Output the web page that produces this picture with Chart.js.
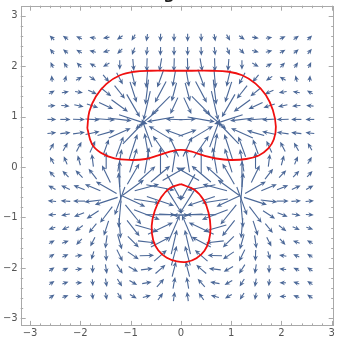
<!DOCTYPE html>
<html lang="en">
  <head>
    <meta charset="utf-8" />
    <title>Vector field with contour</title>
    <style>
      * { margin: 0; padding: 0; }
      body { width: 339px; height: 339px; overflow: hidden; background: #fff; }
      #chart { display: block; }
    </style>
  </head>
  <body>
    <canvas id="chart" width="339" height="339"></canvas>
    <script src="https://cdn.jsdelivr.net/npm/chart.js/dist/chart.umd.min.js"></script>
    <script>
      // sample grid (arrow centres)
      const gridX = [-2.565, -2.295, -2.025, -1.755, -1.485, -1.215, -0.945, -0.675, -0.405, -0.135,
                     0.135, 0.405, 0.675, 0.945, 1.215, 1.485, 1.755, 2.025, 2.295, 2.565];
      const gridY = [2.565, 2.295, 2.025, 1.755, 1.485, 1.215, 0.945, 0.675, 0.405, 0.135,
                     -0.135, -0.405, -0.675, -0.945, -1.215, -1.485, -1.755, -2.025, -2.295, -2.565];

      // arrow direction in degrees (0 = right, 90 = up), one row per gridY
      const angles = [
        [135,145,155,170,-170,-145,-120,-100,-92,-90, -90,-88,-80,-60,-35,-10,10,25,35,45],
        [130,140,150,165,-165,-135,-110,-97,-92,-90, -90,-88,-83,-70,-45,-15,15,30,40,50],
        [115,125,135,150,-150,-90,-85,-92,-100,-92, -88,-80,-88,-95,-90,-30,30,45,55,65],
        [95,75,30,-35,-50,-62,-77,-95,-110,-100, -80,-70,-85,-103,-118,-130,-145,150,105,85],
        [30,10,-10,-25,-39,-52,-72,-97,-118,-105, -75,-62,-83,-108,-128,-141,-155,-170,170,150],
        [5,-5,-12,-18,-25,-36,-60,-103,-135,-115, -65,-45,-77,-120,-144,-155,-162,-168,-175,175],
        [0,0,-2,-3,-4,-7,-18,-140,-170,178, 2,-10,-40,-162,-173,-176,-177,-178,180,180],
        [6,7,8,12,16,24,46,110,149,160, 20,31,70,134,156,164,168,172,173,174],
        [60,60,62,65,70,70,72,100,125,115, 65,55,80,108,110,110,115,118,120,120],
        [120,112,105,97,90,80,73,80,90,81, 99,90,100,107,100,90,83,75,68,60],
        [133,134,134,128,116,90,60,42,40,30, 150,140,138,120,90,64,52,46,46,47],
        [151,156,158,157,150,95,36,15,-11,-61, -119,-169,165,144,85,30,23,22,24,29],
        [175,177,180,-173,-162,-110,-25,-9,-19,-58, -122,-161,-171,-155,-70,-18,-7,0,3,5],
        [-177,-170,-159,-147,-127,-95,-51,-21,0,-3, -177,180,-159,-129,-85,-53,-33,-21,-10,-3],
        [-163,-155,-143,-129,-108,-85,-52,-16,25,67, 113,155,-164,-128,-95,-72,-51,-37,-25,-17],
        [30,20,-132,-117,-98,-74,-45,-7,28,77, 103,152,-173,-135,-106,-82,-63,-48,160,150],
        [35,25,10,-106,-88,-64,-34,2,41,75, 105,139,178,-146,-116,-92,-74,170,155,145],
        [35,25,5,-90,-81,-57,-30,7,41,76, 104,139,173,-150,-123,-99,-90,175,155,145],
        [35,20,0,-85,-80,-58,-30,10,48,80, 100,132,170,-150,-122,-100,-95,180,160,145],
        [35,20,0,-82,-80,-58,-30,15,55,82, 98,125,165,-150,-122,-100,-98,180,160,145]
      ];

      // relative vector magnitude (0 = weakest, 1 = strongest)
      const sizes = [
        [.02,.02,.02,.02,.03,.04,.05,.06,.08,.08, .08,.08,.06,.05,.04,.03,.02,.02,.02,.02],
        [.02,.02,.02,.03,.04,.05,.08,.1,.12,.12, .12,.12,.1,.08,.05,.04,.03,.02,.02,.02],
        [.02,.02,.03,.04,.06,.15,.25,.3,.3,.3, .3,.3,.3,.25,.15,.06,.04,.03,.02,.02],
        [.02,.03,.04,.07,.15,.3,.45,.55,.55,.45, .45,.55,.55,.45,.3,.15,.07,.04,.03,.02],
        [.03,.05,.08,.15,.3,.45,.65,.8,.75,.55, .55,.75,.8,.65,.45,.3,.15,.08,.05,.03],
        [.06,.1,.15,.25,.4,.6,.85,1,.85,.5, .5,.85,1,.85,.6,.4,.25,.15,.1,.06],
        [.12,.18,.25,.35,.5,.75,1,1,.9,.45, .45,.9,1,1,.75,.5,.35,.25,.18,.12],
        [.12,.18,.25,.35,.5,.75,1,1,.9,.55, .55,.9,1,1,.75,.5,.35,.25,.18,.12],
        [.1,.14,.2,.28,.4,.65,.85,.9,.85,.65, .65,.85,.9,.85,.65,.4,.28,.2,.14,.1],
        [.08,.12,.18,.28,.45,.7,.8,.85,.85,.75, .75,.85,.85,.8,.7,.45,.28,.18,.12,.08],
        [.08,.12,.18,.3,.55,.85,.75,.7,.8,.85, .85,.8,.7,.75,.85,.55,.3,.18,.12,.08],
        [.1,.15,.25,.45,.75,1,.85,.8,.95,1, 1,.95,.8,.85,1,.75,.45,.25,.15,.1],
        [.1,.15,.25,.45,.75,1,.85,.85,.95,1, 1,.95,.85,.85,1,.75,.45,.25,.15,.1],
        [.08,.12,.2,.35,.6,.85,.8,.9,1,1, 1,1,.9,.8,.85,.6,.35,.2,.12,.08],
        [.05,.08,.14,.25,.4,.6,.6,.75,.9,.95, .95,.9,.75,.6,.6,.4,.25,.14,.08,.05],
        [.03,.05,.1,.18,.3,.4,.4,.5,.65,.8, .8,.65,.5,.4,.4,.3,.18,.1,.05,.03],
        [.02,.03,.06,.12,.22,.3,.3,.35,.45,.6, .6,.45,.35,.3,.3,.22,.12,.06,.03,.02],
        [.02,.02,.04,.08,.15,.2,.2,.25,.3,.4, .4,.3,.25,.2,.2,.15,.08,.04,.02,.02],
        [.02,.02,.02,.05,.1,.12,.12,.15,.2,.25, .25,.2,.15,.12,.12,.1,.05,.02,.02,.02],
        [.02,.02,.02,.03,.06,.08,.08,.1,.12,.15, .15,.12,.1,.08,.08,.06,.03,.02,.02,.02]
      ];

      // red level curve, two closed pieces
      const upperX = [-1.86,-1.82,-1.69,-1.48,-1.21,-0.93,-0.60,-0.22,0.22,0.60,0.95,1.22,1.48,1.69,1.83,1.89,
                      1.85,1.74,1.55,1.30,0.98,0.70,0.45,0.20,0.0,-0.20,-0.45,-0.70,-0.97,-1.32,-1.60,-1.77,-1.86];
      const upperY = [0.77,1.10,1.40,1.65,1.82,1.89,1.91,1.91,1.91,1.91,1.89,1.82,1.66,1.43,1.13,0.80,
                      0.55,0.37,0.23,0.16,0.14,0.17,0.23,0.31,0.34,0.31,0.23,0.16,0.14,0.17,0.29,0.46,0.77];
      const lowerX = [0.0,0.27,0.45,0.55,0.59,0.56,0.47,0.31,0.12,-0.08,-0.28,-0.45,-0.55,-0.58,-0.52,-0.39,-0.22,0.0];
      const lowerY = [-0.34,-0.45,-0.65,-0.90,-1.20,-1.45,-1.66,-1.81,-1.88,-1.87,-1.80,-1.65,-1.45,-1.17,-0.87,-0.60,-0.42,-0.34];

      const tickValues = [-3, -2, -1, 0, 1, 2, 3];
      const titleText = "g"; // only the descender of the clipped title is visible

      const ARROW = "#4a6797";
      const FRAME = "#a9a9a9";

      const gridPoints = [];
      gridY.forEach((y) => gridX.forEach((x) => gridPoints.push({ x, y })));
      const toPoints = (xs, ys) => xs.map((x, i) => ({ x, y: ys[i] }));

      const arrowPlugin = {
        id: "arrows",
        beforeDatasetsDraw(chart) {
          const ctx = chart.ctx;
          const sx = chart.scales.x;
          const sy = chart.scales.y;
          ctx.save();
          ctx.fillStyle = ARROW;
          ctx.strokeStyle = ARROW;
          ctx.lineWidth = 1.1;
          gridY.forEach((y, j) => {
            gridX.forEach((x, i) => {
              const a = (angles[j][i] * Math.PI) / 180;
              const len = 6 + 24 * sizes[j][i];
              const cx = sx.getPixelForValue(x);
              const cy = sy.getPixelForValue(y);
              const dx = Math.cos(a);
              const dy = -Math.sin(a);
              const tipX = cx + (dx * len) / 2;
              const tipY = cy + (dy * len) / 2;
              const tailX = cx - (dx * len) / 2;
              const tailY = cy - (dy * len) / 2;
              const head = Math.min(5.5, len * 0.85);
              const hw = 2.4;
              const bx = tipX - dx * head;
              const by = tipY - dy * head;
              const nx = tipX - dx * head * 0.7;
              const ny = tipY - dy * head * 0.7;
              ctx.beginPath();
              ctx.moveTo(tailX, tailY);
              ctx.lineTo(nx, ny);
              ctx.stroke();
              ctx.beginPath();
              ctx.moveTo(tipX, tipY);
              ctx.lineTo(bx - dy * hw, by + dx * hw);
              ctx.lineTo(nx, ny);
              ctx.lineTo(bx + dy * hw, by - dx * hw);
              ctx.closePath();
              ctx.fill();
            });
          });
          ctx.restore();
        },
      };

      const framePlugin = {
        id: "frame",
        afterDraw(chart) {
          const { ctx, chartArea: area } = chart;
          const sx = chart.scales.x;
          const sy = chart.scales.y;
          ctx.save();
          ctx.strokeStyle = FRAME;
          ctx.lineWidth = 1;
          ctx.strokeRect(Math.round(area.left) + 0.5, Math.round(area.top) + 0.5,
                         Math.round(area.right - area.left) - 1, Math.round(area.bottom - area.top) - 1);
          // inward ticks every 0.2, longer at integers
          for (let k = -16; k <= 16; k++) {
            const v = k / 5;
            const len = k % 5 === 0 ? 5 : 2.5;
            const px = Math.round(sx.getPixelForValue(v)) + 0.5;
            const py = Math.round(sy.getPixelForValue(v)) + 0.5;
            ctx.beginPath();
            if (px > area.left + 1 && px < area.right - 1) {
              ctx.moveTo(px, area.bottom);
              ctx.lineTo(px, area.bottom - len);
              ctx.moveTo(px, area.top);
              ctx.lineTo(px, area.top + len);
            }
            if (py > area.top + 1 && py < area.bottom - 1) {
              ctx.moveTo(area.left, py);
              ctx.lineTo(area.left + len, py);
              ctx.moveTo(area.right, py);
              ctx.lineTo(area.right - len, py);
            }
            ctx.stroke();
          }
          ctx.fillStyle = "#555555";
          ctx.font = "10px 'DejaVu Sans', sans-serif";
          const fmt = (v) => (v < 0 ? "\u2212" + Math.abs(v) : String(v));
          ctx.textAlign = "center";
          ctx.textBaseline = "middle";
          tickValues.forEach((v) => {
            ctx.fillText(fmt(v), sx.getPixelForValue(v), area.bottom + 8);
          });
          ctx.textAlign = "right";
          tickValues.forEach((v) => {
            ctx.fillText(fmt(v), area.left - 3, sy.getPixelForValue(v));
          });
          // clipped plot title above the frame
          ctx.fillStyle = "#222222";
          ctx.font = "bold 16px 'DejaVu Sans', sans-serif";
          ctx.textAlign = "center";
          ctx.textBaseline = "alphabetic";
          ctx.fillText(titleText, 169, -1);
          ctx.restore();
        },
      };

      const config = {
        type: "scatter",
        data: {
          datasets: [
            { label: "field", data: gridPoints, pointRadius: 0, showLine: false },
            { label: "upper", data: toPoints(upperX, upperY), showLine: true, borderColor: "#f01010",
              borderWidth: 1.8, pointRadius: 0, tension: 0.4, fill: false },
            { label: "lower", data: toPoints(lowerX, lowerY), showLine: true, borderColor: "#f01010",
              borderWidth: 1.8, pointRadius: 0, tension: 0.4, fill: false },
          ],
        },
        options: {
          responsive: false,
          animation: false,
          layout: { padding: { left: 20.7, top: 5.7, right: 5.3, bottom: 13.1 } },
          plugins: { legend: { display: false }, tooltip: { enabled: false } },
          scales: {
            x: { type: "linear", min: -3.185, max: 3.04, display: false },
            y: { type: "linear", min: -3.15, max: 3.2, display: false },
          },
        },
        plugins: [arrowPlugin, framePlugin],
      };

      const myChart = new Chart(document.getElementById("chart"), config);
    </script>
  </body>
</html>
